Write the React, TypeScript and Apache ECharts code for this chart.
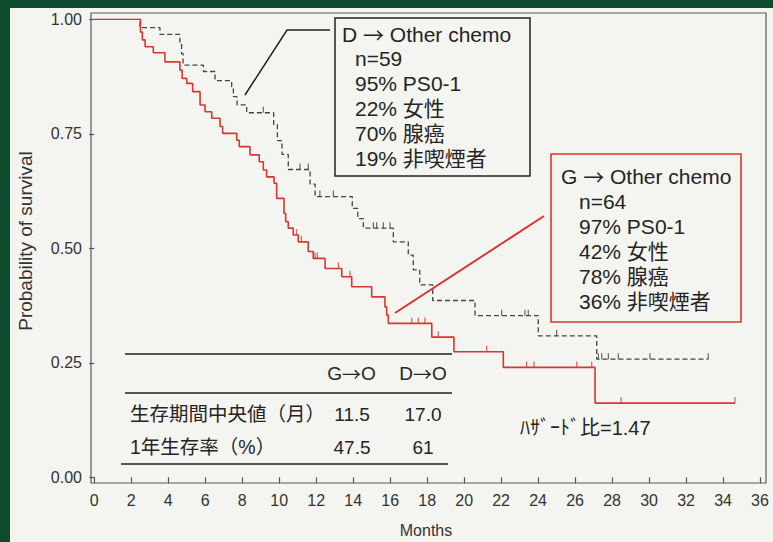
import React, { useEffect, useRef } from "react";
import * as echarts from "echarts";

// ---------- data ----------
const monthTicks = [0, 2, 4, 6, 8, 10, 12, 14, 16, 18, 20, 22, 24, 26, 28, 30, 32, 34, 36];
const probTicks = [0, 0.25, 0.5, 0.75, 1.0];

// G -> Other chemo (red, solid)
const gTimes = [0, 2.5, 2.6, 2.75, 3.19, 3.82, 4.63, 4.75, 5.0, 5.32, 5.72, 5.99, 6.35, 6.8, 6.94, 7.7, 7.84, 8.42, 8.92, 9.14, 9.32, 9.72, 9.86, 10.26, 10.35, 10.49, 10.76, 11.03, 11.57, 11.84, 12.48, 13.38, 13.92, 15.0, 15.72, 15.81, 15.9, 18.25, 19.45, 22.12, 27.08, 34.65];
const gSurv = [1, 0.972, 0.955, 0.94, 0.927, 0.907, 0.889, 0.871, 0.86, 0.842, 0.813, 0.798, 0.784, 0.766, 0.751, 0.736, 0.722, 0.704, 0.689, 0.671, 0.656, 0.642, 0.609, 0.576, 0.558, 0.544, 0.529, 0.514, 0.493, 0.478, 0.456, 0.438, 0.416, 0.394, 0.372, 0.354, 0.336, 0.306, 0.274, 0.24, 0.162, 0.162];
const gCensor = [10.95, 11.2, 11.94, 12.06, 13.2, 13.83, 17.17, 17.52, 17.88, 18.6, 21.22, 23.38, 23.78, 26.09, 26.9, 28.49, 34.65];

// D -> Other chemo (black, dashed)
const dTimes = [0, 2.47, 3.55, 4.63, 4.72, 4.8, 5.9, 6.53, 7.43, 7.52, 7.72, 8.24, 9.7, 9.9, 10.15, 10.49, 11.67, 11.94, 13.95, 14.25, 14.55, 16.17, 16.98, 17.25, 17.6, 18.3, 20.59, 24.01, 27.17, 33.2];
const dSurv = [1, 0.982, 0.967, 0.95, 0.925, 0.9, 0.886, 0.866, 0.848, 0.831, 0.813, 0.796, 0.77, 0.735, 0.705, 0.672, 0.64, 0.613, 0.587, 0.565, 0.544, 0.514, 0.485, 0.453, 0.42, 0.386, 0.353, 0.309, 0.258, 0.258];
const dCensor = [9.14, 11.12, 11.57, 12.2, 12.93, 15.09, 15.27, 15.63, 15.99, 22.03, 23.29, 23.47, 25.0, 27.26, 27.44, 27.8, 28.34, 30.05, 33.2];

const dBoxLines = ["D \u2192 Other chemo", "n=59", "95% PS0-1", "22% 女性", "70% 腺癌", "19% 非喫煙者"];
const gBoxLines = ["G \u2192 Other chemo", "n=64", "97% PS0-1", "42% 女性", "78% 腺癌", "36% 非喫煙者"];
const tableHeader = ["G\u2192O", "D\u2192O"];
const tableRows = ["生存期間中央値（月）", "1年生存率（%）"];
const tableG = ["11.5", "47.5"];
const tableD = ["17.0", "61"];
const hazardText = "ﾊｻﾞｰﾄﾞ比=1.47";

// ---------- helpers ----------
const survAt = (times: number[], surv: number[], t: number) => {
  let s = surv[0];
  for (let i = 0; i < times.length; i++) if (times[i] <= t + 1e-9) s = surv[i];
  return s;
};
const FONT = "'Liberation Sans', Arial, 'Noto Sans CJK JP', sans-serif";
const CJK = "'Noto Sans CJK JP', sans-serif";
const BG = "#f4f5f0";
const RED = "#d6372f";
const DARK = "#242424";

const txt = (text: string, x: number, y: number, size: number, align = "left", fill = DARK, extra: any = {}) => {
  const hasArrow = text.includes("\u2192");
  const shown = hasArrow ? text.split("\u2192").join("{a|\u2192}") : text;
  return {
    type: "text",
    x,
    y,
    z: 20,
    ...extra,
    style: {
      text: shown,
      fill,
      fontSize: size,
      fontFamily: FONT,
      align,
      verticalAlign: "middle",
      textAlign: align,
      textVerticalAlign: "middle",
      rich: hasArrow ? { a: { fontFamily: CJK, fontSize: size, fill } } : undefined,
    },
  };
};

export default function App() {
  const ref = useRef<HTMLDivElement>(null);
  useEffect(() => {
    const chart = echarts.init(ref.current!, null, { renderer: "svg" });

    const graphics: any[] = [];
    // dark green frame strips
    graphics.push({ type: "rect", shape: { x: 0, y: 0, width: 773, height: 8 }, style: { fill: "#0d4a2e" }, z: 30 });
    graphics.push({ type: "rect", shape: { x: 0, y: 0, width: 10, height: 542 }, style: { fill: "#0d4a2e" }, z: 30 });
    // plot frame
    graphics.push({ type: "rect", shape: { x: 91, y: 13, width: 675, height: 470 }, style: { fill: "none", stroke: "#5a5a5a", lineWidth: 1.2 }, z: 1 });

    // D box
    graphics.push({ type: "rect", shape: { x: 335, y: 18, width: 195, height: 158 }, style: { fill: BG, stroke: "#222", lineWidth: 1.5 }, z: 15 });
    dBoxLines.forEach((l, i) => graphics.push(txt(l, i === 0 ? 342 : 355, 34 + i * 24.8, 21)));
    graphics.push({ type: "polyline", shape: { points: [[245, 95], [287, 30], [330, 30]] }, style: { stroke: "#222", lineWidth: 1.5, fill: "none" }, z: 15 });

    // G box
    graphics.push({ type: "rect", shape: { x: 551, y: 154, width: 190, height: 168 }, style: { fill: BG, stroke: RED, lineWidth: 1.6 }, z: 15 });
    gBoxLines.forEach((l, i) => graphics.push(txt(l, i === 0 ? 561 : 579, 176 + i * 25, 21)));
    graphics.push({ type: "line", shape: { x1: 395, y1: 313, x2: 544, y2: 216 }, style: { stroke: RED, lineWidth: 2 }, z: 15 });

    // table
    graphics.push({ type: "line", shape: { x1: 125, y1: 354, x2: 452, y2: 354 }, style: { stroke: "#222", lineWidth: 1.6 }, z: 15 });
    graphics.push({ type: "line", shape: { x1: 125, y1: 393, x2: 452, y2: 393 }, style: { stroke: "#222", lineWidth: 1.6 }, z: 15 });
    graphics.push({ type: "line", shape: { x1: 121, y1: 464, x2: 448, y2: 464 }, style: { stroke: "#222", lineWidth: 1.6 }, z: 15 });
    graphics.push(txt(tableHeader[0], 351.5, 373, 19, "center"));
    graphics.push(txt(tableHeader[1], 423, 373, 19, "center"));
    tableRows.forEach((r, i) => {
      const y = i === 0 ? 414 : 447;
      graphics.push(txt(r, 130, y, 19.5));
      graphics.push(txt(tableG[i], 352, y, 19, "center"));
      graphics.push(txt(tableD[i], 423, y, 19, "center"));
    });

    // hazard ratio
    graphics.push(txt(hazardText, 520, 428, 20));

    // axis titles
    graphics.push(txt("Months", 426, 530, 16, "center", "#333"));
    graphics.push(txt("Probability of survival", 25, 241, 19, "center", "#333", { rotation: Math.PI / 2 }));

    chart.setOption({
      animation: false,
      backgroundColor: BG,
      grid: { left: 94.3, right: 13, top: 19.3, bottom: 64.7 },
      xAxis: {
        type: "value",
        min: monthTicks[0],
        max: monthTicks[monthTicks.length - 1],
        interval: 2,
        offset: 5.7,
        axisLine: { show: false },
        axisTick: { show: true, length: 6, lineStyle: { color: "#555", width: 1.2 } },
        axisLabel: { fontSize: 16, color: "#333", margin: 9, fontFamily: FONT },
        splitLine: { show: false },
      },
      yAxis: {
        type: "value",
        min: probTicks[0],
        max: probTicks[probTicks.length - 1],
        interval: 0.25,
        offset: 3.3,
        axisLine: { show: false },
        axisTick: { show: true, length: 5, lineStyle: { color: "#555", width: 1.2 } },
        axisLabel: { fontSize: 16, color: "#333", margin: 9, fontFamily: FONT, formatter: (v: number) => v.toFixed(2) },
        splitLine: { show: false },
      },
      series: [
        {
          name: "D → Other chemo",
          type: "line",
          step: "end",
          symbol: "none",
          data: dTimes.map((t, i) => [t, dSurv[i]]),
          lineStyle: { color: "#444", width: 1.3, type: [5, 3] },
          z: 3,
        },
        {
          name: "G → Other chemo",
          type: "line",
          step: "end",
          symbol: "none",
          data: gTimes.map((t, i) => [t, gSurv[i]]),
          lineStyle: { color: RED, width: 1.6 },
          z: 4,
        },
        {
          type: "scatter",
          symbol: "rect",
          symbolSize: [1.2, 6],
          symbolOffset: [0, -3],
          itemStyle: { color: "#444" },
          data: dCensor.map((t) => [t, survAt(dTimes, dSurv, t)]),
          z: 3,
        },
        {
          type: "scatter",
          symbol: "rect",
          symbolSize: [1.2, 6],
          symbolOffset: [0, -3],
          itemStyle: { color: RED },
          data: gCensor.map((t) => [t, survAt(gTimes, gSurv, t)]),
          z: 4,
        },
      ],
      graphic: graphics,
    });
    return () => chart.dispose();
  }, []);
  return <div ref={ref} style={{ position: "absolute", left: 0, top: 0, width: 773, height: 542 }} />;
}
